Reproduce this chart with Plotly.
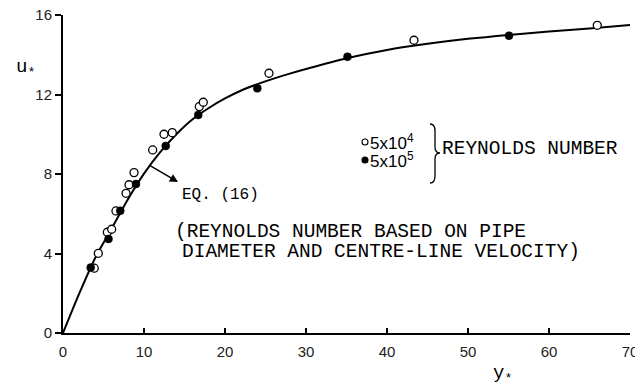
import plotly.graph_objects as go

# ---------------- data ----------------
open_x = [3.86, 4.36, 5.47, 6.01, 6.54, 7.78, 8.15, 8.77, 11.07, 12.47, 13.49, 16.83, 17.32, 25.43, 43.33, 65.96]
open_y = [3.26, 4.01, 5.07, 5.22, 6.14, 7.03, 7.46, 8.07, 9.21, 10.0, 10.08, 11.39, 11.61, 13.07, 14.73, 15.48]

filled_x = [3.42, 5.62, 7.07, 9.01, 12.68, 16.7, 23.99, 35.12, 55.06]
filled_y = [3.29, 4.73, 6.15, 7.5, 9.41, 10.97, 12.31, 13.9, 14.96]

curve_x = [0, 2, 4, 6, 8, 10, 12, 14, 16, 18, 20, 22, 24, 26, 28, 30, 35, 40, 45, 50, 55, 60, 65, 70]
curve_y = [0, 1.98, 3.8, 5.25, 6.72, 8.02, 9.1, 10.0, 10.75, 11.32, 11.8, 12.2, 12.52, 12.8, 13.05, 13.28,
           13.82, 14.24, 14.55, 14.8, 15.0, 15.17, 15.32, 15.5]

x_ticks = [0, 10, 20, 30, 40, 50, 60, 70]
y_ticks = [0, 4, 8, 12, 16]

# ---------------- layout helpers ----------------
# the page body has an 8 px margin, so screen pixel = figure pixel + 8
OFF = 8
W, H = 643 - OFF, 392 - OFF
L, R, T, B = 63 - OFF, 630 - OFF, 15 - OFF, 333 - OFF


def px(x):
    return (x - OFF - L) / (R - L)


def py(y):
    return (B - (y - OFF)) / (B - T)


fig = go.Figure()

fig.add_trace(go.Scatter(
    x=curve_x, y=curve_y, mode="lines",
    line=dict(color="black", width=2, shape="spline", smoothing=0.8),
    hoverinfo="skip", showlegend=False, cliponaxis=False))

fig.add_trace(go.Scatter(
    x=open_x, y=open_y, mode="markers",
    marker=dict(symbol="circle", size=8, color="white",
                line=dict(color="black", width=1.3)),
    name="5x10^4", showlegend=False, cliponaxis=False))

fig.add_trace(go.Scatter(
    x=filled_x, y=filled_y, mode="markers",
    marker=dict(symbol="circle", size=8, color="black",
                line=dict(color="black", width=0.5)),
    name="5x10^5", showlegend=False, cliponaxis=False))

mono = "Liberation Mono, Courier New, monospace"
sans = "Liberation Sans, Arial, sans-serif"

annotations = [
    # axis titles
    dict(x=px(14), y=py(54), text="u<sub>*</sub>", font=dict(family=mono, size=19, color="black")),
    dict(x=px(514), y=py(388), text="y<sub>*</sub>", font=dict(family=mono, size=19, color="black")),
    # legend texts
    dict(x=px(368), y=py(142), text="5x10<sup>4</sup>", xanchor="left",
         font=dict(family=sans, size=17, color="black")),
    dict(x=px(368), y=py(160), text="5x10<sup>5</sup>", xanchor="left",
         font=dict(family=sans, size=17, color="black")),
    dict(x=px(440), y=py(149), text="REYNOLDS NUMBER", xanchor="left",
         font=dict(family=mono, size=19.5, color="black")),
    # equation label + arrow
    dict(x=px(180), y=py(195), text="EQ. (16)", xanchor="left",
         font=dict(family=mono, size=16, color="black")),
    dict(x=px(178), y=py(182), text="", showarrow=True, arrowhead=2, arrowsize=1.1,
         arrowwidth=1.5, arrowcolor="black", ax=-29, ay=-17),
    # note
    dict(x=px(173), y=py(245), text="(REYNOLDS NUMBER BASED ON PIPE", xanchor="left",
         font=dict(family=mono, size=19.5, color="black")),
    dict(x=px(180), y=py(265), text="DIAMETER AND CENTRE-LINE VELOCITY)", xanchor="left",
         font=dict(family=mono, size=19.5, color="black")),
]
for a in annotations:
    a.setdefault("showarrow", False)
    a["xref"] = "paper"
    a["yref"] = "paper"


def pt(x, y):
    return f"{px(x):.5f},{py(y):.5f}"


brace = (f"M {pt(430,124)} Q {pt(435,124)} {pt(435,131)} L {pt(435,147)} "
         f"Q {pt(435,153)} {pt(440,153)} Q {pt(435,153)} {pt(435,159)} "
         f"L {pt(435,176)} Q {pt(435,183)} {pt(430,183)}")

shapes = [
    dict(type="path", path=brace, xref="paper", yref="paper",
         line=dict(color="black", width=1.3)),
    dict(type="circle", xref="paper", yref="paper",
         x0=px(362), x1=px(368), y0=py(139), y1=py(145),
         line=dict(color="black", width=1.1), fillcolor="white"),
    dict(type="circle", xref="paper", yref="paper",
         x0=px(362), x1=px(368), y0=py(157), y1=py(163),
         line=dict(color="black", width=1.1), fillcolor="black"),
]

fig.update_layout(
    width=W, height=H,
    margin=dict(l=L, r=W - R, t=T, b=H - B, pad=0, autoexpand=False),
    paper_bgcolor="white", plot_bgcolor="white",
    annotations=annotations, shapes=shapes,
    showlegend=False,
)

fig.update_xaxes(
    range=[0, 70], tickvals=x_ticks, ticktext=[str(v) for v in x_ticks],
    showgrid=False, zeroline=False, showline=True, linecolor="black", linewidth=2,
    ticks="inside", ticklen=5, tickwidth=1.5, tickcolor="black",
    tickfont=dict(family=sans, size=15, color="#222"), ticklabelstandoff=4,
    ticklabeloverflow="allow",
)
fig.update_yaxes(
    range=[0, 16], tickvals=y_ticks, ticktext=[str(v) for v in y_ticks],
    showgrid=False, zeroline=False, showline=True, linecolor="black", linewidth=2,
    ticks="outside", ticklen=6, tickwidth=1.5, tickcolor="black",
    tickfont=dict(family=sans, size=15, color="#222"),
    ticklabeloverflow="allow",
)

fig.write_html("out.html")
